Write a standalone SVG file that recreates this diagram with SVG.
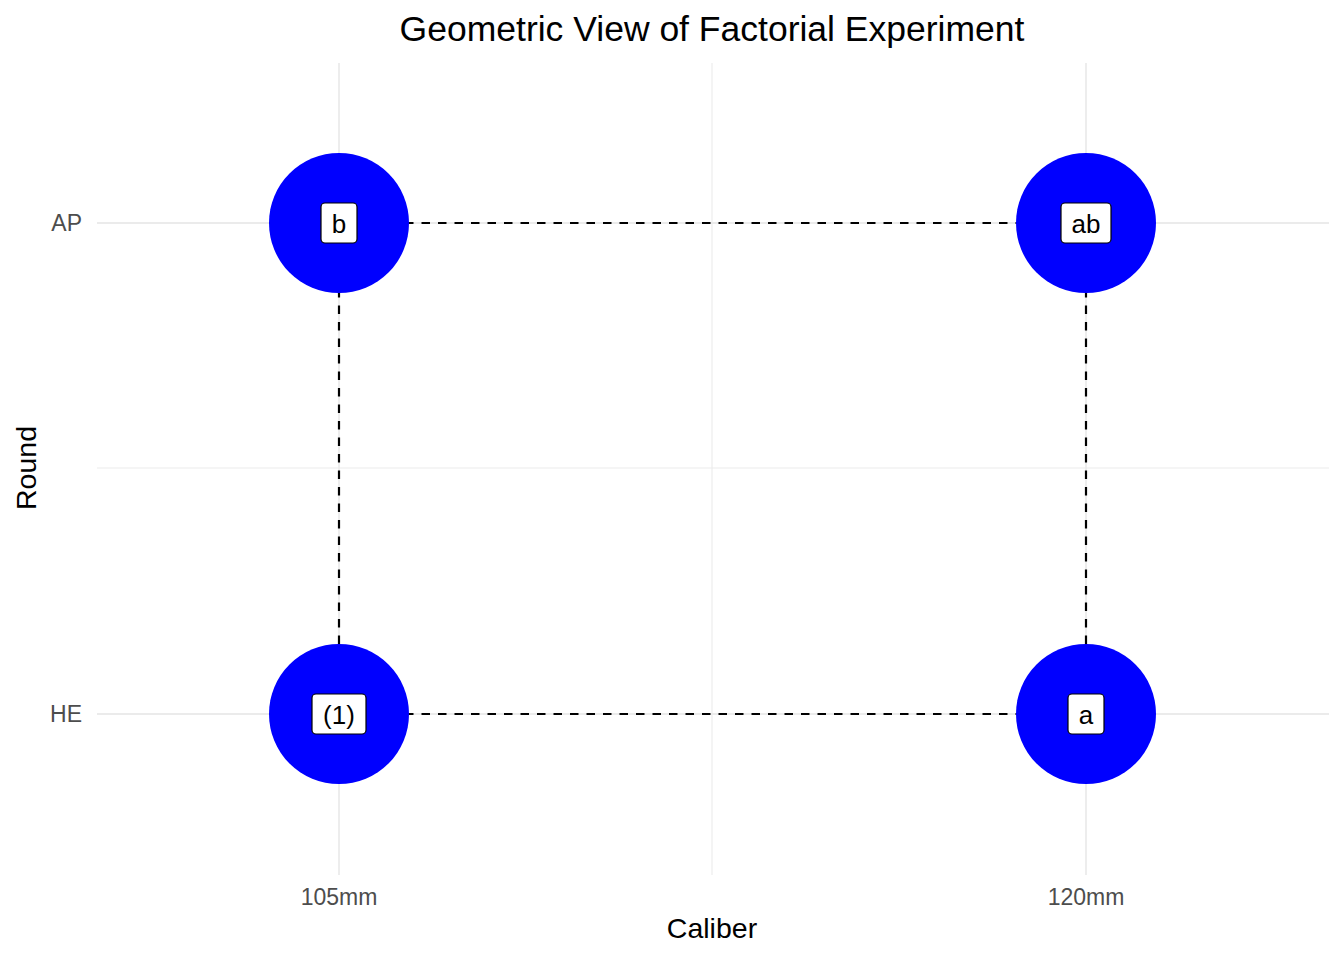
<svg xmlns="http://www.w3.org/2000/svg" width="1344" height="960" viewBox="0 0 1344 960">
<style>
.grid{stroke:#EBEBEB;stroke-width:1.8;fill:none}
.minor{stroke:#EBEBEB;stroke-width:1.1;fill:none}
.edge{stroke:#000;stroke-width:2.2;stroke-dasharray:8.5,8;fill:none}
.pt{fill:#0000FF}
.lbox{fill:#fff;stroke:#000;stroke-width:1.2}
.lbl{font-family:"Liberation Sans",Arial,sans-serif;font-size:26px;fill:#000;text-anchor:middle}
.tick{font-family:"Liberation Sans",Arial,sans-serif;font-size:23px;fill:#4D4D4D}
.axt{font-family:"Liberation Sans",Arial,sans-serif;font-size:28.5px;fill:#000;text-anchor:middle}
.title{font-family:"Liberation Sans",Arial,sans-serif;font-size:35.5px;fill:#000;text-anchor:middle}
</style>
<rect width="1344" height="960" fill="#fff"/>
<g id="gridlines">
<line class="minor" x1="97" y1="468" x2="1329" y2="468"/>
<line class="minor" x1="712" y1="63" x2="712" y2="875"/>
<line class="grid" x1="97" y1="223" x2="1329" y2="223"/>
<line class="grid" x1="97" y1="714" x2="1329" y2="714"/>
<line class="grid" x1="339" y1="63" x2="339" y2="875"/>
<line class="grid" x1="1086" y1="63" x2="1086" y2="875"/>
</g>
<g id="connectors">
<line class="edge" x1="339" y1="223" x2="1086" y2="223"/>
<line class="edge" x1="339" y1="714" x2="1086" y2="714"/>
<line class="edge" x1="339" y1="223" x2="339" y2="714"/>
<line class="edge" x1="1086" y1="223" x2="1086" y2="714"/>
</g>
<g id="node-b">
<circle class="pt" cx="339" cy="223" r="70"/>
<rect class="lbox" x="321" y="203" width="36" height="40" rx="4"/>
<text class="lbl" x="339" y="233">b</text>
</g>
<g id="node-ab">
<circle class="pt" cx="1086" cy="223" r="70"/>
<rect class="lbox" x="1061" y="203" width="50" height="40" rx="4"/>
<text class="lbl" x="1086" y="233">ab</text>
</g>
<g id="node-1">
<circle class="pt" cx="339" cy="714" r="70"/>
<rect class="lbox" x="312" y="694" width="54" height="40" rx="4"/>
<text class="lbl" x="339" y="724">(1)</text>
</g>
<g id="node-a">
<circle class="pt" cx="1086" cy="714" r="70"/>
<rect class="lbox" x="1068" y="694" width="36" height="40" rx="4"/>
<text class="lbl" x="1086" y="724">a</text>
</g>
<g id="axes">
<text class="tick" x="82" y="231" text-anchor="end">AP</text>
<text class="tick" x="82" y="722" text-anchor="end">HE</text>
<text class="tick" x="339" y="905" text-anchor="middle">105mm</text>
<text class="tick" x="1086" y="905" text-anchor="middle">120mm</text>
<text class="axt" x="712" y="938">Caliber</text>
<text class="axt" transform="translate(36,468) rotate(-90)">Round</text>
<text class="title" x="712" y="41">Geometric View of Factorial Experiment</text>
</g>
</svg>
